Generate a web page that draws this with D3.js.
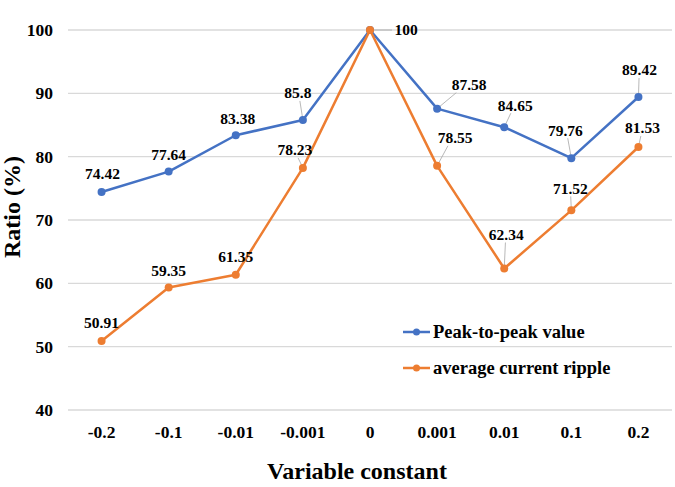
<!DOCTYPE html>
<html>
<head>
<meta charset="utf-8">
<script src="https://cdn.jsdelivr.net/npm/d3@7"></script>
<style>
  html, body { margin: 0; padding: 0; background: #fff; }
  svg { display: block; }
  svg text { font-family: "Liberation Serif", "Times New Roman", Times, "DejaVu Serif", serif !important; font-weight: bold; fill: #000; }
</style>
</head>
<body>
<svg id="chart" width="675" height="487"></svg>
<script>
// ---- data ----
const categories = ["-0.2", "-0.1", "-0.01", "-0.001", "0", "0.001", "0.01", "0.1", "0.2"];
const peakToPeak = [74.42, 77.64, 83.38, 85.8, 100, 87.58, 84.65, 79.76, 89.42];
const avgRipple = [50.91, 59.35, 61.35, 78.23, 100, 78.55, 62.34, 71.52, 81.53];
const yTicks = [40, 50, 60, 70, 80, 90, 100];
const seriesNames = ["Peak-to-peak value", "average current ripple"];

// ---- layout (label offsets relative to points, in px) ----
const blueLabelOffsets = [[1,-18],[0,-17],[2,-17],[-5,-27],[36,0],[32,-24],[11,-22],[-6,-28],[1,-27]];
const orangeLabelOffsets = [[0,-18],[0,-17],[0,-18],[-8,-18],null,[18,-28],[2,-34],[-1,-22],[4,-19]];
const blueLeader = [false,false,false,true,true,true,true,true,true];
const orangeLeader = [false,false,false,true,false,true,true,true,true];

const colors = ["#4472C4", "#ED7D31"];
const svg = d3.select("#chart");
const margin = {left: 68, right: 3, top: 30, bottom: 77};
const W = 675, H = 487;

const x = d3.scaleBand().domain(categories).range([margin.left, W - margin.right]).padding(0);
const y = d3.scaleLinear().domain([40, 100]).range([H - margin.bottom, margin.top]);
const cx = c => x(c) + x.bandwidth() / 2;

// gridlines
svg.append("g").selectAll("line").data(yTicks).join("line")
  .attr("x1", margin.left).attr("x2", W - margin.right)
  .attr("y1", d => y(d)).attr("y2", d => y(d))
  .attr("stroke", "#d9d9d9").attr("stroke-width", 1.3);

// y axis labels
const yAxis = d3.axisLeft(y).tickValues(yTicks).tickSize(0).tickPadding(15).tickFormat(d3.format("d"));
const gy = svg.append("g").attr("transform", `translate(${margin.left},0)`).call(yAxis);
gy.attr("font-family", null).attr("font-size", null);
gy.select(".domain").remove();
gy.selectAll("text").style("font-size", "17.5px");

// x axis labels
const xAxis = d3.axisBottom(x).tickSize(0).tickPadding(16);
const gx = svg.append("g").attr("transform", `translate(0,${y(40)})`).call(xAxis);
gx.attr("font-family", null).attr("font-size", null);
gx.select(".domain").remove();
gx.selectAll("text").style("font-size", "17.5px");

// axis titles
svg.append("text").attr("x", 357).attr("y", 479).attr("text-anchor", "middle")
  .style("font-size", "24px").text("Variable constant");
svg.append("text").attr("transform", "translate(20,207) rotate(-90)").attr("text-anchor", "middle")
  .style("font-size", "24px").text("Ratio (%)");

const series = [
  {vals: peakToPeak, color: colors[0], offs: blueLabelOffsets, lead: blueLeader},
  {vals: avgRipple, color: colors[1], offs: orangeLabelOffsets, lead: orangeLeader}
];

const line = d3.line().x((d, i) => cx(categories[i])).y(d => y(d));

// leader lines
series.forEach(s => {
  s.vals.forEach((v, i) => {
    if (!s.lead[i] || !s.offs[i]) return;
    const px = cx(categories[i]), py = y(v);
    const [dx, dy] = s.offs[i];
    let tx, ty;
    if (dy === 0) { tx = px + dx - 14; ty = py; }
    else { tx = px + dx * 0.6; ty = py + dy + 8; }
    svg.append("line").attr("x1", px).attr("y1", py).attr("x2", tx).attr("y2", ty)
      .attr("stroke", "#a6a6a6").attr("stroke-width", 0.8);
  });
});

// lines and markers
series.forEach(s => {
  svg.append("path").datum(s.vals).attr("d", line)
    .attr("fill", "none").attr("stroke", s.color).attr("stroke-width", 2.5).attr("stroke-linejoin", "round");
  svg.append("g").selectAll("circle").data(s.vals).join("circle")
    .attr("cx", (d, i) => cx(categories[i])).attr("cy", d => y(d)).attr("r", 4)
    .attr("fill", s.color);
});

// data labels
series.forEach(s => {
  svg.append("g").selectAll("text").data(s.vals.map((v, i) => ({v, i}))).join("text")
    .filter(d => s.offs[d.i])
    .attr("x", d => cx(categories[d.i]) + s.offs[d.i][0])
    .attr("y", d => y(d.v) + s.offs[d.i][1])
    .attr("dy", "0.35em").attr("text-anchor", "middle")
    .style("font-size", "15.5px").text(d => d.v);
});

// legend
const legY = [332, 368];
seriesNames.forEach((name, k) => {
  const g = svg.append("g");
  g.append("line").attr("x1", 403).attr("x2", 430).attr("y1", legY[k]).attr("y2", legY[k])
    .attr("stroke", colors[k]).attr("stroke-width", 2.5);
  g.append("circle").attr("cx", 416.5).attr("cy", legY[k]).attr("r", 3.5).attr("fill", colors[k]);
  g.append("text").attr("x", 433).attr("y", legY[k]).attr("dy", "0.35em")
    .style("font-size", "18.5px").text(name);
});
</script>
</body>
</html>
